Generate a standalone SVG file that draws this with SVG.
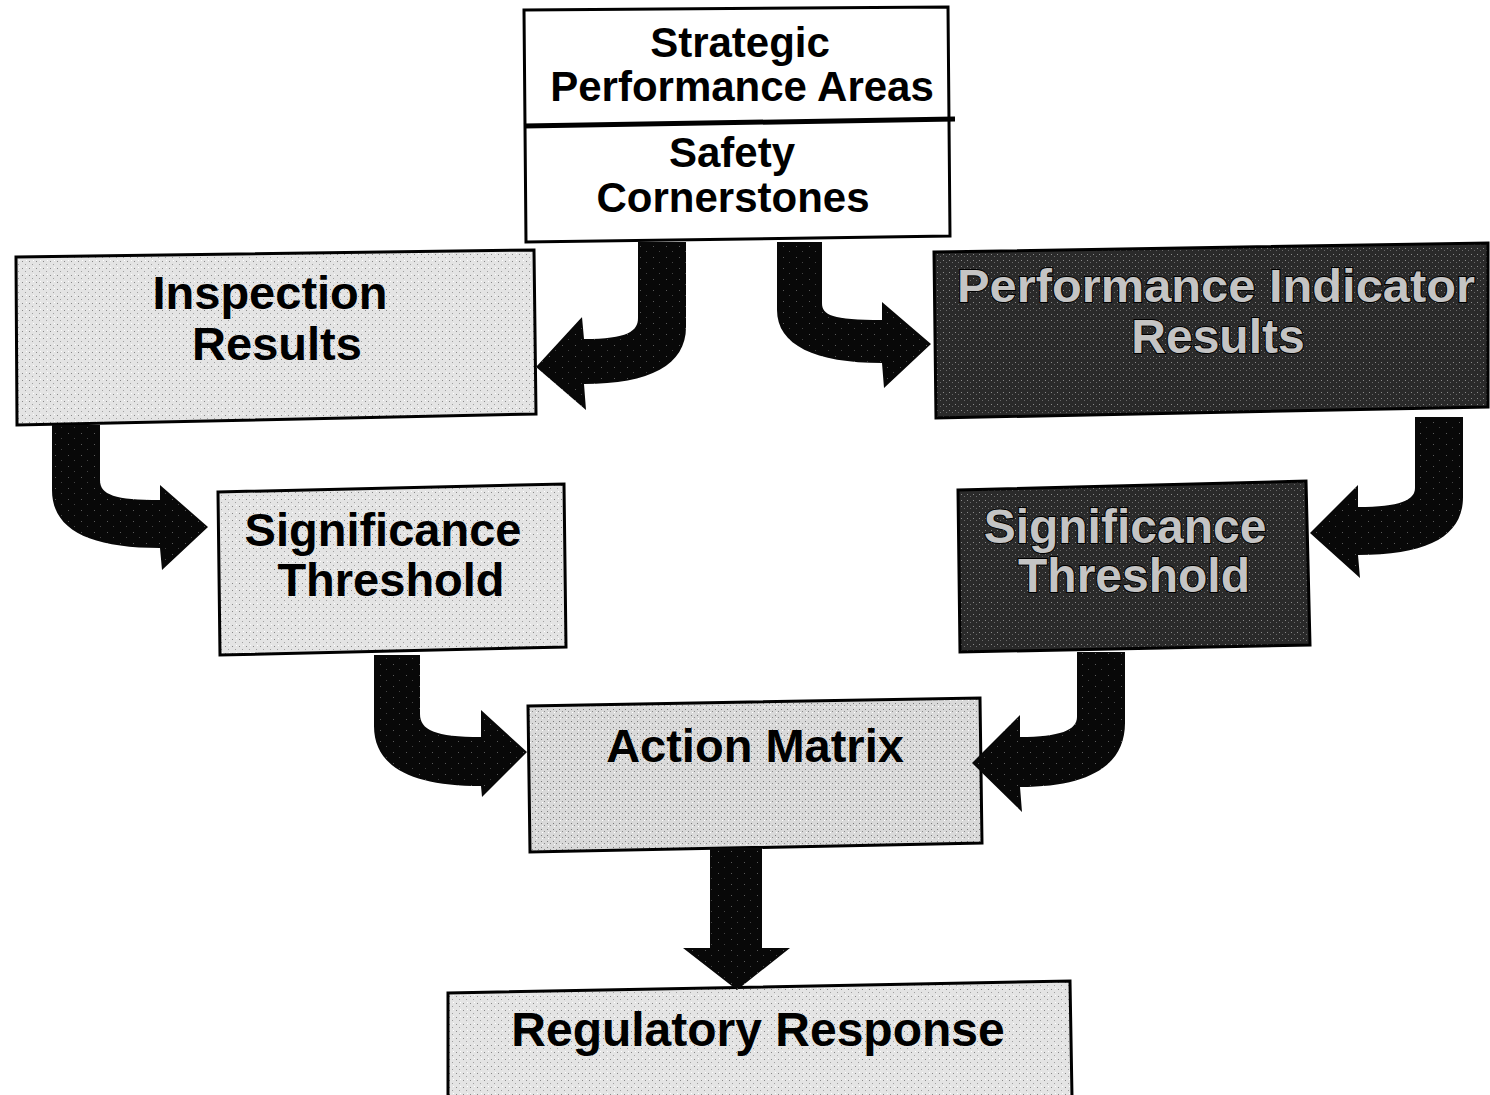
<svg xmlns="http://www.w3.org/2000/svg" width="1490" height="1095" viewBox="0 0 1490 1095">
<style>
.box{stroke:#000;stroke-width:3;stroke-linejoin:miter}
.light{fill:url(#stipLight)}
.mid{fill:url(#stipMid)}
.dark{fill:url(#stipDark)}
.white{fill:#fff}
.t{font-family:"Liberation Sans",Arial,sans-serif;font-weight:bold;text-anchor:middle;fill:#000}
.td{font-family:"Liberation Sans",Arial,sans-serif;font-weight:bold;text-anchor:middle;fill:#c4c4c4;stroke:#000;stroke-width:2;paint-order:stroke fill}
.arrow{fill:url(#stipArrow)}
</style>
<defs>
<pattern id="stipLight" width="7" height="7" patternUnits="userSpaceOnUse">
<rect width="7" height="7" fill="#e4e4e4"/>
<rect x="1" y="2" width="1" height="1" fill="#8a8a8a"/>
<rect x="4" y="5" width="1" height="1" fill="#a0a0a0"/>
<rect x="5" y="1" width="1" height="1" fill="#fff"/>
</pattern>
<pattern id="stipMid" width="6" height="6" patternUnits="userSpaceOnUse">
<rect width="6" height="6" fill="#d9d9d9"/>
<rect x="1" y="1" width="1" height="1" fill="#7a7a7a"/>
<rect x="4" y="3" width="1" height="1" fill="#8a8a8a"/>
<rect x="2" y="4" width="1" height="1" fill="#fff"/>
</pattern>
<pattern id="stipDark" width="6" height="6" patternUnits="userSpaceOnUse">
<rect width="6" height="6" fill="#2a2a2a"/>
<rect x="1" y="2" width="1" height="1" fill="#8a8a8a"/>
<rect x="4" y="4" width="1" height="1" fill="#6a6a6a"/>
</pattern>
<pattern id="stipArrow" width="13" height="11" patternUnits="userSpaceOnUse">
<rect width="13" height="11" fill="#080808"/>
<rect x="3" y="4" width="1" height="1" fill="#5a5a5a"/>
<rect x="9" y="9" width="1" height="1" fill="#444"/>
</pattern>
</defs>

<g id="nodes">
<g id="node-spa">
<polygon class="box white" points="524,10 948,7 950,236 526,242"/>
<line x1="524" y1="126" x2="955" y2="119" stroke="#000" stroke-width="5"/>
<text class="t" x="740" y="57" font-size="42">Strategic</text>
<text class="t" x="742" y="101" font-size="42">Performance Areas</text>
<text class="t" x="732" y="167" font-size="42">Safety</text>
<text class="t" x="733" y="212" font-size="42">Cornerstones</text>
</g>
<g id="node-inspection">
<polygon class="box light" points="16,257 534,250 536,414 17,425"/>
<text class="t" x="270" y="309" font-size="47">Inspection</text>
<text class="t" x="277" y="360" font-size="47">Results</text>
</g>
<g id="node-pi">
<polygon class="box dark" points="934,252 1488,243 1488,407 936,418"/>
<text class="td" x="1216" y="302" font-size="46" textLength="518" lengthAdjust="spacingAndGlyphs">Performance Indicator</text>
<text class="td" x="1218" y="353" font-size="48">Results</text>
</g>
<g id="node-sig-left">
<polygon class="box light" points="218,492 564,484 566,647 220,655"/>
<text class="t" x="383" y="546" font-size="47">Significance</text>
<text class="t" x="391" y="596" font-size="47">Threshold</text>
</g>
<g id="node-sig-right">
<polygon class="box dark" points="958,490 1306,481 1310,645 960,652"/>
<text class="td" x="1125" y="543" font-size="48">Significance</text>
<text class="td" x="1134" y="592" font-size="48">Threshold</text>
</g>
<g id="node-action">
<polygon class="box mid" points="528,706 980,698 982,843 530,852"/>
<text class="t" x="755" y="762" font-size="47">Action Matrix</text>
</g>
<g id="node-regulatory">
<polygon class="box light" points="448,993 1070,981 1072,1097 448,1097"/>
<text class="t" x="758" y="1046" font-size="48">Regulatory Response</text>
</g>
</g>

<g id="connectors">
<path class="arrow" d="M638,242 L686,242 L686,327 C686,365 650,384 584,384 L586,410 L536,367 L582,317 L584,339 C628,339 638,331 638,318 Z"/>
<path class="arrow" d="M777,242 L822,242 L822,303 C822,315 832,320 882,320 L882,302 L931,344 L884,388 L882,363 C815,363 777,345 777,310 Z"/>
<path class="arrow" d="M52,425 L100,425 L100,480 C100,495 115,500 160,500 L160,485 L208,527 L162,570 L160,548 C90,548 52,530 52,490 Z"/>
<path class="arrow" d="M374,655 L420,655 L420,714 C420,730 435,737 481,737 L481,710 L527,752 L482,797 L481,786 C410,786 374,766 374,726 Z"/>
<path class="arrow" d="M1415,417 L1463,417 L1463,497 C1463,535 1430,555 1358,555 L1360,578 L1310,533 L1358,485 L1358,507 C1400,507 1415,500 1415,488 Z"/>
<path class="arrow" d="M1077,652 L1125,652 L1125,723 C1125,765 1090,787 1020,787 L1022,812 L972,763 L1020,715 L1020,737 C1060,737 1077,730 1077,717 Z"/>
<path class="arrow" d="M710,848 L762,848 L762,948 L790,948 L737,990 L683,948 L710,948 Z"/>
</g>
</svg>
